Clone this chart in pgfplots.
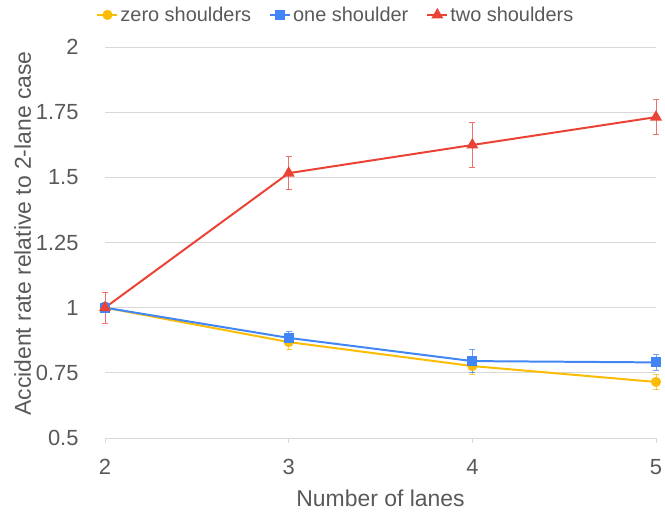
\documentclass[border=0pt]{standalone}
\usepackage{pgfplots}
\pgfplotsset{compat=1.18}
\usepackage{fontspec}
\setmainfont{Liberation Sans}
\definecolor{cY}{HTML}{FBBC04}
\definecolor{cB}{HTML}{4285F4}
\definecolor{cR}{HTML}{EA4335}
\definecolor{txt}{HTML}{595959}
\definecolor{grd}{HTML}{D9D9D9}
\begin{document}
\begin{tikzpicture}[x=1bp,y=1bp]
\useasboundingbox (0,0) rectangle (665,514);
\begin{axis}[
  at={(105bp,76bp)}, anchor=south west,
  width=551bp, height=391bp, scale only axis,
  xmin=2, xmax=5, ymin=0.5, ymax=2,
  xtick={2,3,4,5}, ytick={0.5,0.75,1,1.25,1.5,1.75,2},
  yticklabels={0.5,0.75,1,1.25,1.5,1.75,2},
  /pgf/number format/assume math mode=true,
  axis line style={draw=none},
  axis x line*=bottom,
  x axis line style={draw=grd, line width=0.8pt},
  ymajorgrids, grid style={grd, line width=0.8pt},
  major tick length=5bp,
  xtick style={grd, line width=0.8pt}, ytick style={draw=none},
  tick align=outside,
  every tick label/.append style={font=\fontsize{22}{26}\selectfont, text=txt},
  xticklabel style={yshift=-13bp},
  yticklabel style={xshift=-18bp},
  xlabel={Number of lanes}, ylabel={Accident rate relative to 2-lane case},
  label style={font=\fontsize{23}{27}\selectfont, text=txt},
  xlabel style={yshift=-8bp},
  ylabel style={yshift=-2bp, xshift=9bp},
  legend style={draw=none, fill=none, at={(0.419,1.082)}, anchor=center,
    font=\fontsize{20}{24}\selectfont, text=txt, legend columns=3,
    /tikz/every even column/.append style={column sep=16bp},
    inner sep=0pt},
  legend image code/.code={\draw[#1, mark repeat=2, mark phase=2] plot coordinates {(0bp,0bp) (10bp,0bp) (20bp,0bp)};},
  clip=false,
  error bars/error bar style={line width=1pt, opacity=0.75},
  error bars/error mark options={rotate=90, mark size=3bp, line width=1pt},
]
\addplot[cY, line width=2pt, mark=*, mark size=4bp, mark options={solid},
  error bars/.cd, y dir=both, y explicit]
  table[x=x, y=y, y error=e] {
x y e
2 1.000 0.02
3 0.868 0.030
4 0.776 0.032
5 0.715 0.030
};
\addlegendentry{zero shoulders}
\addplot[cB, line width=2pt, mark=square*, mark size=4bp, mark options={solid},
  error bars/.cd, y dir=both, y explicit]
  table[x=x, y=y, y error=e] {
x y e
2 1.000 0.02
3 0.884 0.025
4 0.795 0.045
5 0.790 0.030
};
\addlegendentry{one shoulder}
\addplot[cR, line width=2pt, mark=triangle*, mark size=5bp, mark options={solid},
  error bars/.cd, y dir=both, y explicit]
  table[x=x, y=y, y error=e] {
x y e
2 1.000 0.060
3 1.516 0.063
4 1.624 0.086
5 1.731 0.066
};
\addlegendentry{two shoulders}
\end{axis}
\end{tikzpicture}
\end{document}
